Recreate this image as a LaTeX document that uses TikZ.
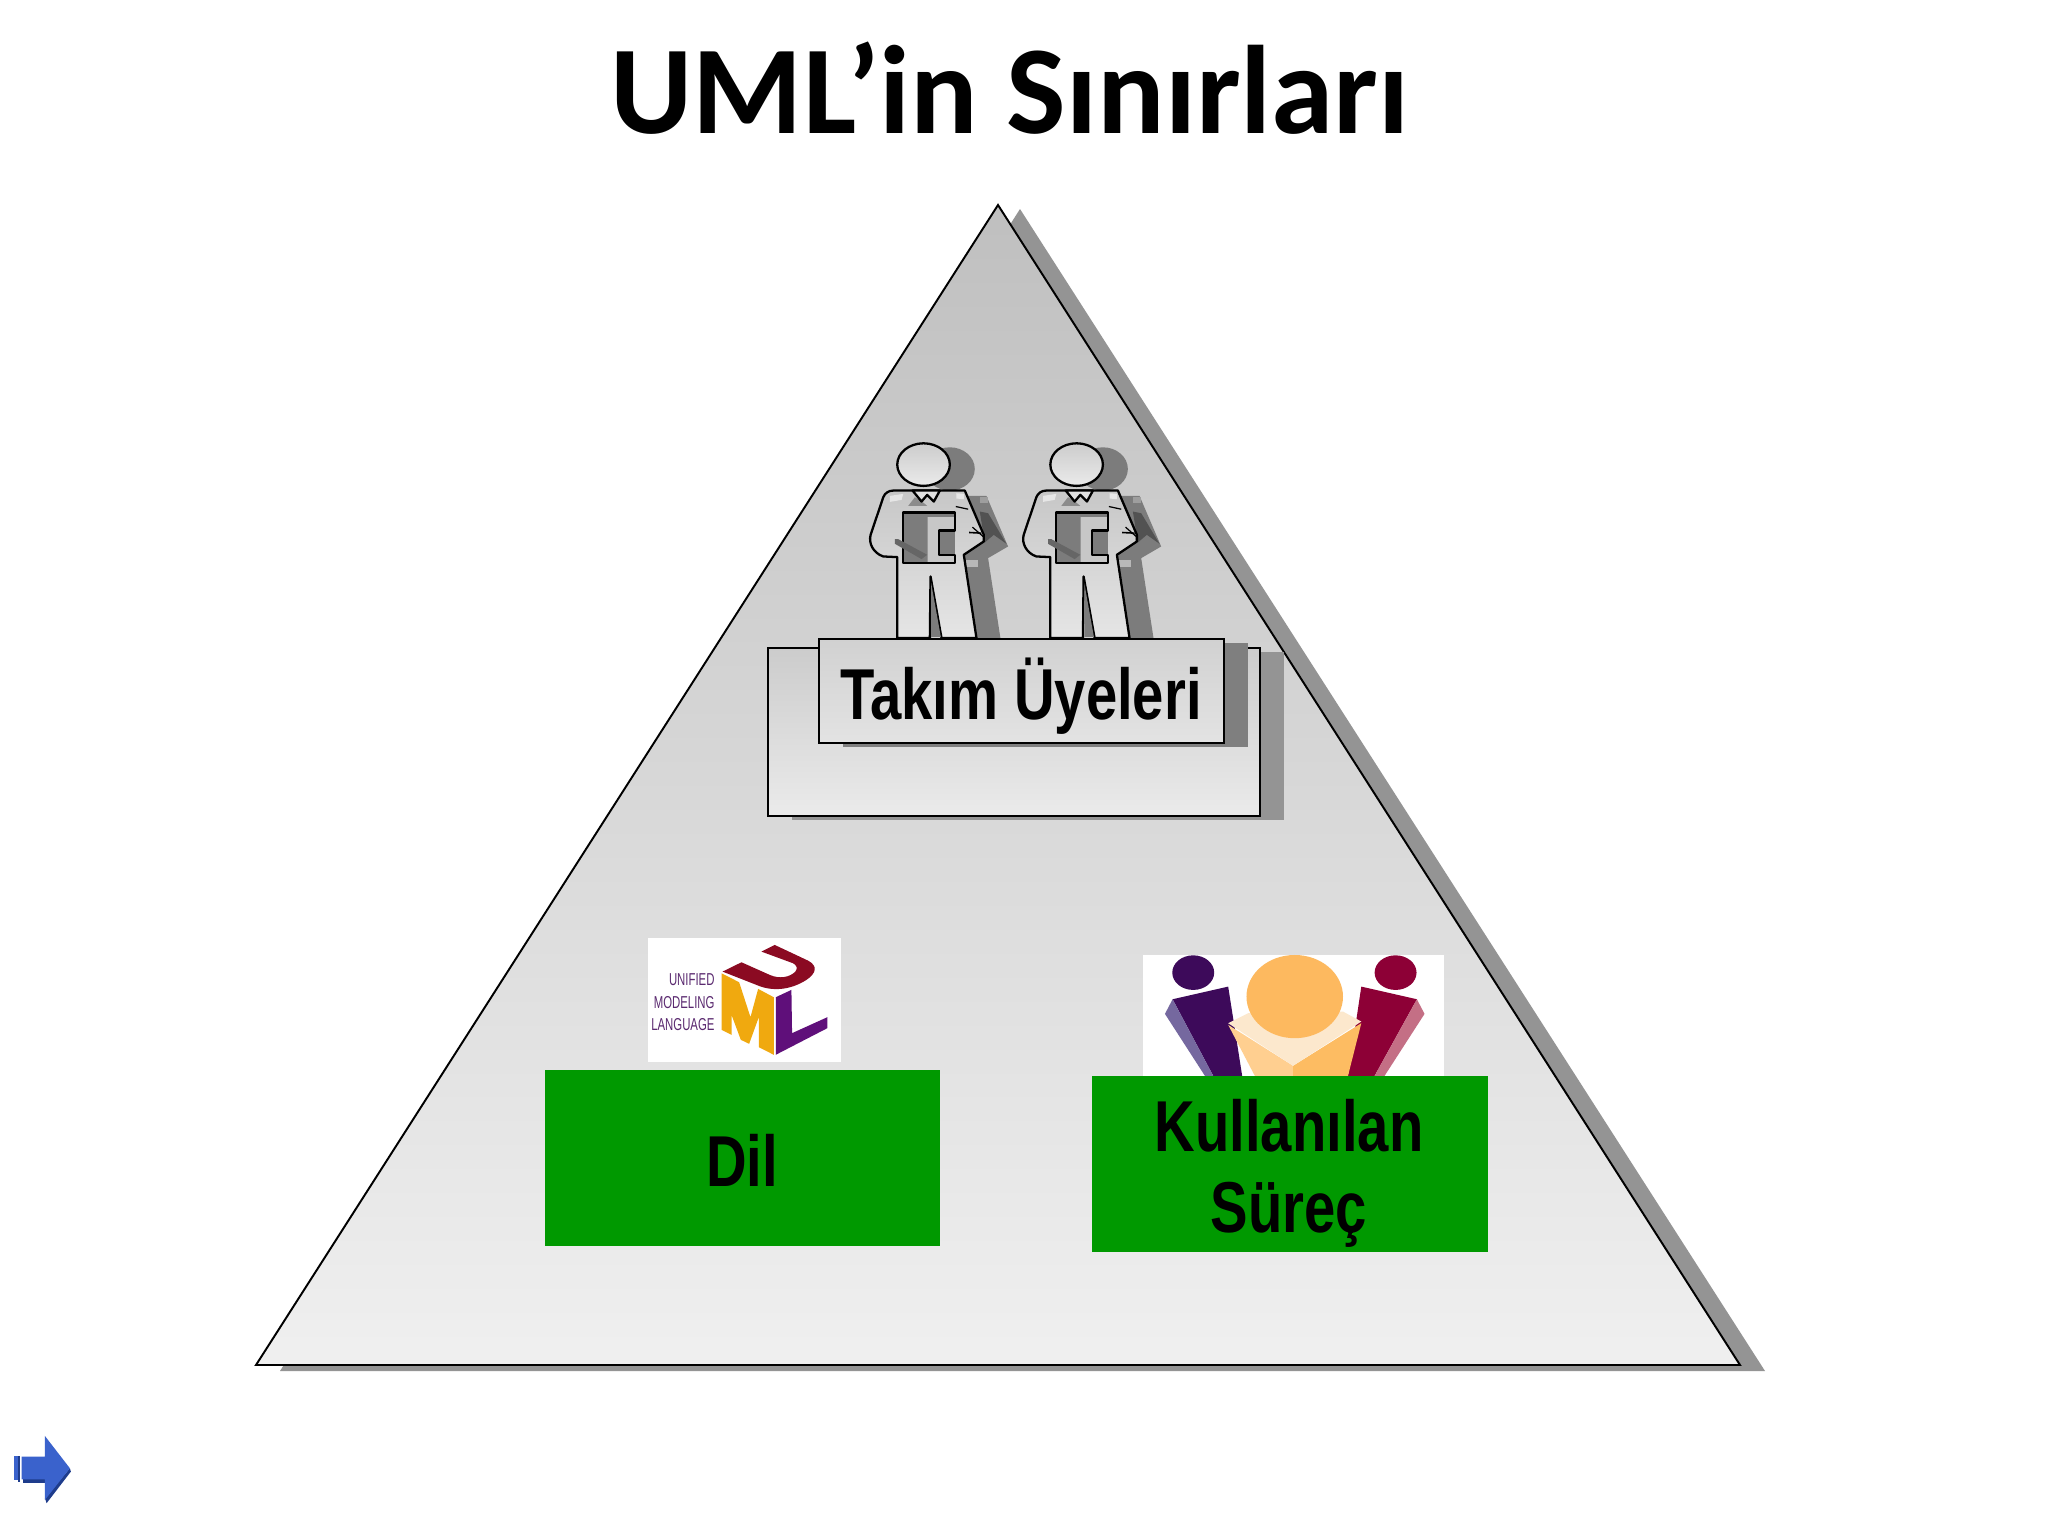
\documentclass[tikz,border=0pt]{standalone}
\usepackage{fontspec}
\setmainfont{Liberation Sans}
\newfontfamily\titlefont{Carlito}
\newfontfamily\narrowfont[FakeStretch=0.78]{Liberation Sans}
\newfontfamily\logofont[FakeStretch=0.66]{Liberation Sans}
\definecolor{shadowgray}{HTML}{949494}
\definecolor{innershadow}{HTML}{7F7F7F}
\definecolor{mandark}{HTML}{7C7C7C}
\definecolor{boxgreen}{HTML}{009900}
\definecolor{logopurple}{HTML}{5F0F7A}
\definecolor{logotext}{HTML}{5B2A70}
\definecolor{logored}{HTML}{8B0A22}
\definecolor{logoorange}{HTML}{F0A90F}
\definecolor{leftperson}{RGB}{61,10,90}
\definecolor{leftside}{RGB}{117,104,159}
\definecolor{rightperson}{RGB}{141,0,54}
\definecolor{rightside}{RGB}{196,111,133}
\definecolor{foldleft}{RGB}{255,207,144}
\definecolor{foldright}{RGB}{253,188,98}
\definecolor{foldtop}{RGB}{252,232,205}
\definecolor{midhead}{RGB}{253,185,95}
\definecolor{arrowblue}{RGB}{58,98,204}
\definecolor{arrowdark}{RGB}{30,60,140}
\tikzset{
  unitshape/.style={draw=black,line width=0.55pt,line join=miter},
  greenbox/.style={fill=boxgreen,draw=none},
  boxlabel/.style={font=\narrowfont\bfseries\fontsize{20.5}{23}\selectfont,align=center,text=black,inner sep=0pt},
  logolabel/.style={font=\logofont\fontsize{4.9}{5}\selectfont,text=logotext,anchor=east,inner sep=0pt},
  zoomed/.style={x=0.003333cm,y=-0.003333cm},
  manline/.style={draw=black,line width=0.65pt,line join=round},
  pics/teammember/.style={code={
    \fill[mandark] (330,147) ellipse [x radius=75,y radius=65];
    \fill[mandark] (375,228) -- (440,228) -- (505,380) -- (445,415) -- (482,655) -- (375,655) -- cycle;
    \fill[black!68] (420,275) -- (445,280) -- (500,372) -- (462,345) -- (435,368) -- cycle;
    \fill[black!38] (420,232) rectangle (445,250);
    \fill[black!28] (378,420) rectangle (415,442);
    \path[manline,top color=black!22,bottom color=black!10]
      (160,212) -- (375,212) -- (432,345) -- (432,365) -- (372,405) -- (410,655) -- (305,655)
      -- (272,470) -- (270,655) -- (172,655) -- (172,412) -- (130,410)
      .. controls (100,400) and (85,370) .. (92,345) -- (130,232) .. controls (135,220) and (145,212) .. (160,212) -- cycle;
    \fill[mandark] (274,490) -- (303,652) -- (274,652) -- cycle;
    \fill[white,opacity=0.55] (150,228) -- (190,222) -- (185,240) -- (150,246) -- cycle;
    \fill[white,opacity=0.55] (350,220) -- (372,222) -- (372,238) -- (350,236) -- cycle;
    \fill[mandark] (190,278) rectangle (345,430);
    \fill[black!22] (263,292) -- (345,292) -- (345,332) -- (297,332) -- (297,405) -- (345,405) -- (345,430) -- (263,430) -- cycle;
    \draw[manline] (190,278) -- (345,278) -- (345,332) -- (297,332) -- (297,405) -- (345,405) -- (345,430) -- (190,430) -- cycle;
    \fill[black!60] (165,358) -- (175,358) -- (262,405) -- (245,418) -- (165,372) -- cycle;
    \fill[black!45] (205,258) -- (225,232) -- (250,248) -- (262,258) -- cycle;
    \draw[manline,line width=0.35pt] (348,260) -- (385,268);
    \draw[manline,line width=0.45pt] (388,338) -- (425,340);
    \draw[manline,line width=0.35pt] (398,322) -- (430,350);
    \path[manline,fill=black!12] (218,212) -- (245,245) -- (262,225) -- (282,245) -- (300,212) -- cycle;
    \path[manline,top color=black!20,bottom color=black!8] (251,134) ellipse [x radius=79,y radius=64];
  }}
}
\begin{document}
\begin{tikzpicture}[x=0.01cm,y=-0.01cm]
\useasboundingbox[fill=white] (0,0) rectangle (2048,1536);

\node[font=\titlefont\bfseries\fontsize{35.8}{40}\selectfont,inner sep=0pt] (title) at (1010,88) {UML’in Sınırları};

\fill[shadowgray] (1020,209) -- (1765,1371) -- (280,1371) -- cycle;
\path[unitshape,top color=black!25,bottom color=black!6] (998,205) -- (1740,1365) -- (256,1365) -- cycle;

\begin{scope}[shift={(840,420)},zoomed]
  \pic (memberone) at (0,0) {teammember};
  \pic (membertwo) at (460,0) {teammember};
\end{scope}

\fill[shadowgray] (792,652) rectangle (1284,820);
\path[unitshape,top color=black!20,bottom color=black!8] (768,648) rectangle (1260,816);
\fill[innershadow] (843,643) rectangle (1248,747);
\path[unitshape,top color=black!18,bottom color=black!11] (819,639) rectangle (1224,743);
\node[boxlabel] (team) at (1021,696) {Takım Üyeleri};

\fill[white] (648,938) rectangle (841,1062);
\begin{scope}[shift={(630,920)},zoomed]
  \fill[logoorange] (275,160) -- (328,187) -- (362,292) -- (385,207) -- (432,232) -- (432,405) -- (387,382) -- (387,292) -- (358,372) -- (333,360) -- (305,285) -- (305,345) -- (275,330) -- cycle;
  \fill[logopurple] (438,232) -- (485,210) -- (487,340) -- (593,292) -- (593,325) -- (438,405) -- cycle;
  \fill[logored] (395,95) -- (435,75) -- (535,122) .. controls (565,138) and (560,160) .. (530,180) .. controls (480,212) and (425,215) .. (380,195) -- (278,155) -- (335,127) -- (420,165) .. controls (450,178) and (480,172) .. (497,155) .. controls (505,145) and (500,135) .. (490,130) -- cycle;
  \node[logolabel] (unified) at (256,180) {UNIFIED};
  \node[logolabel] (modeling) at (256,247) {MODELING};
  \node[logolabel] (language) at (256,313) {LANGUAGE};
\end{scope}

\fill[white] (1143,955) rectangle (1444,1076);
\begin{scope}[shift={(1130,940)},zoomed]
  \fill[leftperson] (190,98) ellipse [x radius=63,y radius=52];
  \fill[leftperson] (128,178) -- (295,140) -- (337,408) -- (250,408) -- cycle;
  \fill[leftside] (128,178) -- (105,222) -- (225,408) -- (250,408) -- cycle;
  \fill[rightperson] (798,98) ellipse [x radius=63,y radius=52];
  \fill[rightperson] (695,140) -- (862,178) -- (735,408) -- (655,408) -- cycle;
  \fill[rightside] (862,178) -- (885,222) -- (765,408) -- (735,408) -- cycle;
  \fill[foldleft] (295,255) -- (490,378) -- (490,408) -- (375,408) -- cycle;
  \fill[foldright] (695,250) -- (490,378) -- (490,408) -- (655,408) -- cycle;
  \fill[foldtop] (295,250) -- (355,220) -- (640,215) -- (695,245) -- (490,378) -- cycle;
  \fill[midhead] (495,170) ellipse [x radius=145,y radius=125];
\end{scope}

\node[greenbox,anchor=north west,inner sep=0pt,minimum width=3.95cm,minimum height=1.76cm] (dilbox) at (544,1069) {};
\node[boxlabel] (dil) at (742,1160) {Dil};
\node[greenbox,anchor=north west,inner sep=0pt,minimum width=3.96cm,minimum height=1.76cm] (processbox) at (1091,1075) {};
\node[boxlabel] (process) at (1289,1173) {Kullanılan\\Süreç};

\begin{scope}[shift={(0,1420)},zoomed]
  \fill[arrowdark] (70,175) rectangle (135,190);
  \fill[arrowdark] (135,235) -- (210,145) -- (213,155) -- (140,250) -- cycle;
  \fill[arrowblue] (65,110) -- (135,110) -- (135,48) -- (210,145) -- (135,240) -- (135,178) -- (65,178) -- cycle;
  \fill[arrowblue] (41,108) rectangle (47,180);
  \fill[arrowdark] (53,108) rectangle (60,185);
  \fill[arrowblue] (47,108) rectangle (53,180);
\end{scope}
\end{tikzpicture}
\end{document}
